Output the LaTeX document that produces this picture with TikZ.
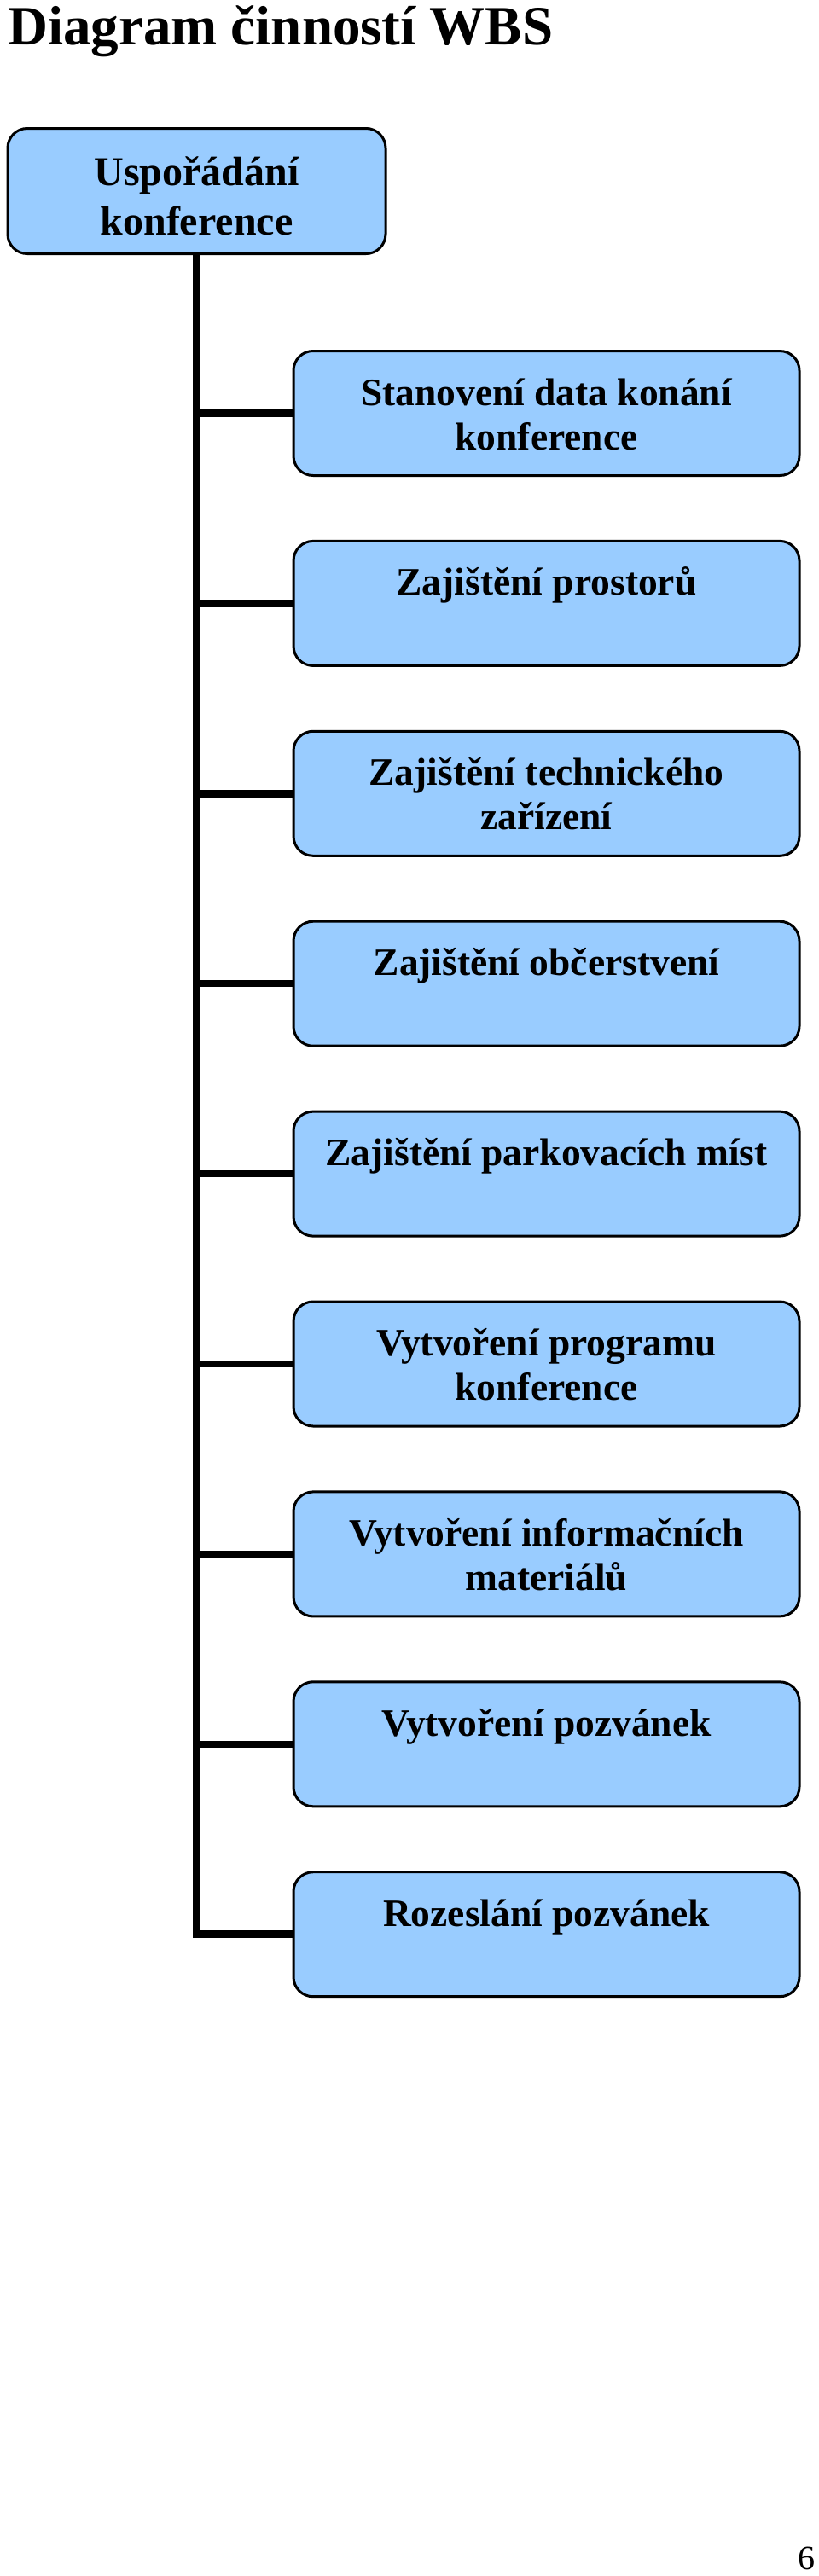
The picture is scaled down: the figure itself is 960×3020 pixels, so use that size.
\documentclass[tikz,border=0pt]{standalone}
\usepackage{fontspec}
\setmainfont{Liberation Serif}
\usetikzlibrary{calc}
\definecolor{boxblue}{HTML}{99CCFF}
\begin{document}
\begin{tikzpicture}[x=1pt,y=-1pt,
 box/.style={draw=black, line width=3pt, fill=boxblue, rounded corners=23pt, inner sep=0pt},
 cbox/.style={box, minimum width=593pt, minimum height=146pt},
 tbox/.style={box, minimum width=443pt, minimum height=147pt},
 ctext/.style={anchor=base, inner sep=0pt, font=\fontsize{45.5}{52}\selectfont\bfseries},
 ttext/.style={anchor=base, inner sep=0pt, font=\fontsize{48}{58}\selectfont\bfseries},
 link/.style={line width=8.5pt}]
\useasboundingbox[fill=white] (0,0) rectangle (960,3020);
\node[anchor=base west, inner sep=0pt, font=\fontsize{65}{70}\selectfont\bfseries] (title) at (9,52) {Diagram činností WBS};
% top box
\node[tbox] (top) at (230.5,224) {};
\node[ttext] (topa) at ($(top.north)+(0,68)$) {Uspořádání};
\node[ttext] (topb) at ($(top.north)+(0,126)$) {konference};
% child boxes
\node[cbox] (c1) at (640.5,484.5) {};
\node[cbox] (c2) at (640.5,707.4) {};
\node[cbox] (c3) at (640.5,930.3) {};
\node[cbox] (c4) at (640.5,1153.2) {};
\node[cbox] (c5) at (640.5,1376.1) {};
\node[cbox] (c6) at (640.5,1599.0) {};
\node[cbox] (c7) at (640.5,1821.9) {};
\node[cbox] (c8) at (640.5,2044.8) {};
\node[cbox] (c9) at (640.5,2267.7) {};
% texts
\node[ctext] (c1a) at ($(c1.north)+(0,65)$) {Stanovení data konání};
\node[ctext] (c1b) at ($(c1.north)+(0,117)$) {konference};
\node[ctext] (c2a) at ($(c2.north)+(0,65)$) {Zajištění prostorů};
\node[ctext] (c3a) at ($(c3.north)+(0,65)$) {Zajištění technického};
\node[ctext] (c3b) at ($(c3.north)+(0,117)$) {zařízení};
\node[ctext] (c4a) at ($(c4.north)+(0,65)$) {Zajištění občerstvení};
\node[ctext] (c5a) at ($(c5.north)+(0,65)$) {Zajištění parkovacích míst};
\node[ctext] (c6a) at ($(c6.north)+(0,65)$) {Vytvoření programu};
\node[ctext] (c6b) at ($(c6.north)+(0,117)$) {konference};
\node[ctext] (c7a) at ($(c7.north)+(0,65)$) {Vytvoření informačních};
\node[ctext] (c7b) at ($(c7.north)+(0,117)$) {materiálů};
\node[ctext] (c8a) at ($(c8.north)+(0,65)$) {Vytvoření pozvánek};
\node[ctext] (c9a) at ($(c9.north)+(0,65)$) {Rozeslání pozvánek};
% connectors
\draw[link] (top.south) -- (top.south |- c9.west) -- (c9.west);
\foreach \k in {1,...,8} {
  \draw[link] (top.south |- c\k.west) -- (c\k.west);
}
% page number
\node[anchor=base east, inner sep=0pt, font=\fontsize{40}{44}\selectfont] (page) at (956,3012) {6};
\end{tikzpicture}
\end{document}
